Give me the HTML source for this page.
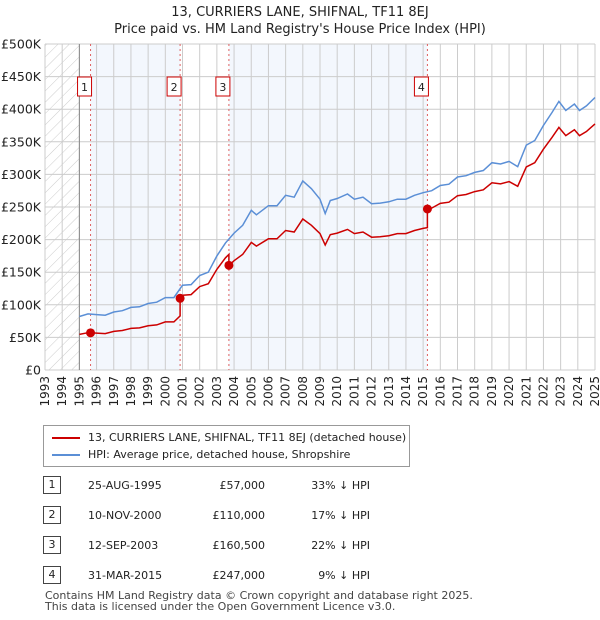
<!DOCTYPE html>
<html><head><meta charset="utf-8"><style>
body{margin:0;background:#fff;font-family:"DejaVu Sans","Liberation Sans",sans-serif;}
#wrap{position:relative;width:600px;height:620px;overflow:hidden;}
svg text{font-family:"DejaVu Sans","Liberation Sans",sans-serif;}
</style></head><body><div id="wrap">
<svg id="chart" width="600" height="620">
<defs><pattern id="hatch" width="8" height="8" patternUnits="userSpaceOnUse" patternTransform="rotate(45)"><line x1="0" y1="0" x2="0" y2="8" stroke="#ccc" stroke-width="1"/></pattern></defs>
<text x="300" y="16" text-anchor="middle" font-size="13" fill="#222">13, CURRIERS LANE, SHIFNAL, TF11 8EJ</text>
<text x="300" y="33" text-anchor="middle" font-size="13" fill="#222">Price paid vs. HM Land Registry's House Price Index (HPI)</text>
<g id="plot"></g>
</svg>
<div style="position:absolute;left:43px;top:425px;width:365px;height:40px;border:1px solid #999;font-size:11px;color:#222">
 <div style="position:absolute;left:8px;top:5px"><span style="display:inline-block;width:28px;height:2px;background:#cc0000;vertical-align:middle;margin-right:8px"></span>13, CURRIERS LANE, SHIFNAL, TF11 8EJ (detached house)</div>
 <div style="position:absolute;left:8px;top:22px"><span style="display:inline-block;width:28px;height:2px;background:#5b8fd6;vertical-align:middle;margin-right:8px"></span>HPI: Average price, detached house, Shropshire</div>
</div>
<div id="table"></div>
<div style="position:absolute;left:45px;top:590px;font-size:11px;color:#444;line-height:11px">Contains HM Land Registry data © Crown copyright and database right 2025.<br>This data is licensed under the Open Government Licence v3.0.</div>
</div>
<script>
const hpiT=[1995.0,1995.5,1996,1996.5,1997,1997.5,1998,1998.5,1999,1999.5,2000,2000.5,2001,2001.5,2002,2002.5,2003,2003.5,2004,2004.5,2005,2005.3,2006,2006.5,2007,2007.5,2008,2008.5,2009,2009.3,2009.6,2010,2010.6,2011,2011.5,2012,2012.5,2013,2013.5,2014,2014.5,2015,2015.5,2016,2016.5,2017,2017.5,2018,2018.5,2019,2019.5,2020,2020.5,2021,2021.5,2022,2022.5,2022.9,2023.3,2023.8,2024.1,2024.5,2025];
const hpiV=[82,86,85,84,89,91,96,97,102,104,111,111,130,131,145,150,175,195,210,222,245,238,252,252,268,265,290,278,262,240,260,263,270,262,265,255,256,258,262,262,268,272,275,283,285,296,298,303,306,318,316,320,312,345,352,375,395,412,398,408,398,405,418];
const saleT=[1995.65,2000.86,2003.7,2015.25];
const salePrice=[57,110,160.5,247];
const saleDate=["25-AUG-1995","10-NOV-2000","12-SEP-2003","31-MAR-2015"];
const salePriceLabel=["£57,000","£110,000","£160,500","£247,000"];
const saleDelta=["33% ↓ HPI","17% ↓ HPI","22% ↓ HPI","9% ↓ HPI"];
const yTicks=[0,50,100,150,200,250,300,350,400,450,500];
const yTickLabels=["£0","£50K","£100K","£150K","£200K","£250K","£300K","£350K","£400K","£450K","£500K"];
const years=[];for(let y=1993;y<=2025;y++)years.push(y);

const X0=45,X1=595,Y0=370,Y1=44;
const xs=t=>X0+(t-1993)/32*(X1-X0);
const ys=v=>Y0-v/500*(Y0-Y1);
const ns="http://www.w3.org/2000/svg";
const g=document.getElementById('plot');
function mk(tag,a){const e=document.createElementNS(ns,tag);for(const k in a)e.setAttribute(k,a[k]);g.appendChild(e);return e;}
function hpiAt(t){if(t<=hpiT[0])return hpiV[0];for(let i=1;i<hpiT.length;i++){if(t<=hpiT[i]){const f=(t-hpiT[i-1])/(hpiT[i]-hpiT[i-1]);return hpiV[i-1]+f*(hpiV[i]-hpiV[i-1]);}}return hpiV[hpiV.length-1];}

let e=mk('rect',{x:X0,y:Y1,width:xs(1995)-X0,height:Y0-Y1,fill:'url(#hatch)'});

for(let i=0;i<saleT.length;i+=2){const end=i+1<saleT.length?saleT[i+1]:2025;
 e=mk('rect',{x:xs(saleT[i]),y:Y1,width:xs(end)-xs(saleT[i]),height:Y0-Y1,fill:'#eef3fc',opacity:0.7});
 }
years.forEach(y=>{e=mk('line',{x1:xs(y),x2:xs(y),y1:Y1,y2:Y0,stroke:'#ccc','stroke-width':1});
 
 e=mk('text',{x:0,y:0,'font-size':12,fill:'#222','text-anchor':'end',transform:`translate(${xs(y)+4},${Y0+6}) rotate(-90)`});
 e.textContent=y;});
yTicks.forEach((v,i)=>{e=mk('line',{x1:X0,x2:X1,y1:ys(v),y2:ys(v),stroke:'#ccc','stroke-width':1});
 
 e=mk('text',{x:41,y:ys(v)+4.5,'font-size':12.5,fill:'#222','text-anchor':'end'});
 e.textContent=yTickLabels[i];});
e=mk('line',{x1:xs(1995),x2:xs(1995),y1:Y1,y2:Y0,stroke:'#888','stroke-width':1});

saleT.forEach((t,i)=>{e=mk('line',{x1:xs(t),x2:xs(t),y1:Y1,y2:Y0,stroke:'#e06060','stroke-width':1,'stroke-dasharray':'2,3'});
 
 e=mk('rect',{x:xs(t)-13,y:77,width:14,height:19,fill:'#fff',stroke:'#cc0000','stroke-width':1});
 
 e=mk('text',{x:xs(t)-6,y:91,'font-size':11,fill:'#222','text-anchor':'middle'});e.textContent=i+1;
 });
let d='';hpiT.forEach((t,i)=>{d+=(i?'L':'M')+xs(t).toFixed(1)+','+ys(hpiV[i]).toFixed(1);});
e=mk('path',{d:d,fill:'none',stroke:'#5b8fd6','stroke-width':1.5});

const ratio=saleT.map((t,i)=>salePrice[i]/hpiAt(t));
function seg(t){let k=0;for(let i=0;i<saleT.length;i++)if(t>=saleT[i])k=i;return k;}
const pts=[];hpiT.forEach((t,i)=>pts.push([t,hpiV[i]*ratio[seg(t)]]));
saleT.forEach((t,i)=>{if(i>0)pts.push([t-0.001,hpiAt(t)*ratio[i-1]]);pts.push([t,salePrice[i]]);});
pts.sort((a,b)=>a[0]-b[0]);
d='';pts.forEach((p,i)=>{d+=(i?'L':'M')+xs(p[0]).toFixed(1)+','+ys(p[1]).toFixed(1);});
e=mk('path',{d:d,fill:'none',stroke:'#cc0000','stroke-width':1.5});

saleT.forEach((t,i)=>{e=mk('circle',{cx:xs(t),cy:ys(salePrice[i]),r:4.5,fill:'#cc0000'});
 });
const tb=document.getElementById('table');
saleT.forEach((t,i)=>{const y=[485,515,545,575][i];
 const r=document.createElement('div');r.style.cssText=`position:absolute;left:0;top:${y-9}px;width:600px;height:18px;font-size:11px;color:#222`;
 
 r.innerHTML=`<span style="position:absolute;left:43px;top:0;width:16px;height:16px;border:1px solid #444;text-align:center;line-height:16px">${i+1}</span>`+
 `<span style="position:absolute;left:88px;top:3px">${saleDate[i]}</span>`+
 `<span style="position:absolute;right:335px;top:3px">${salePriceLabel[i]}</span>`+
 `<span style="position:absolute;right:230px;top:3px">${saleDelta[i]}</span>`;
 tb.appendChild(r);});
</script></body></html>
